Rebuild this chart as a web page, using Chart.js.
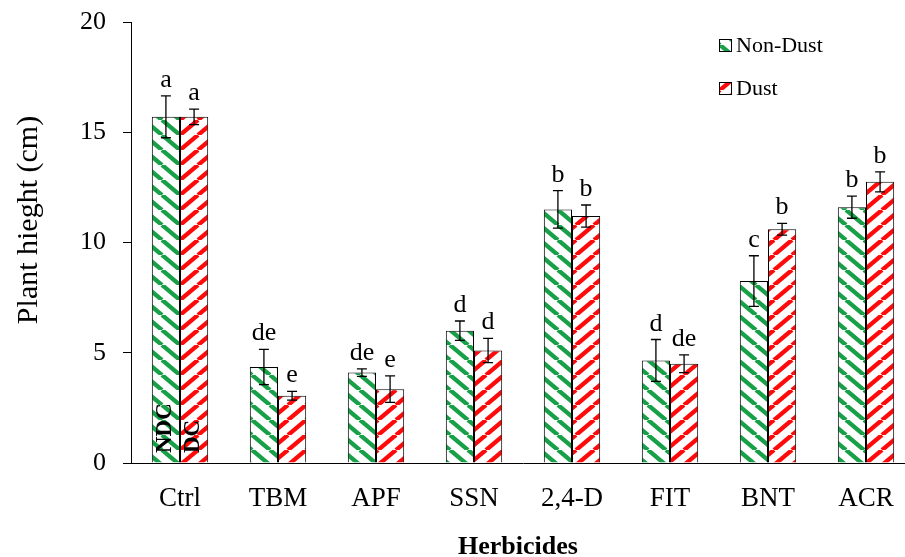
<!DOCTYPE html>
<html>
<head>
<meta charset="utf-8">
<script src="https://cdn.jsdelivr.net/npm/chart.js@4/dist/chart.umd.min.js"></script>
<style>
  html, body { margin: 0; padding: 0; background: #fff; overflow: hidden; }
  #wrap { width: 905px; height: 557px; overflow: hidden; }
  canvas { display: block; }
</style>
</head>
<body>
<div id="wrap"><canvas id="c" width="916" height="557"></canvas></div>
<script>
// Plant height under herbicide treatments, with and without dust
const categories = ['Ctrl', 'TBM', 'APF', 'SSN', '2,4-D', 'FIT', 'BNT', 'ACR'];
const nonDust    = [15.7, 4.35, 4.1, 6.0, 11.5, 4.65, 8.25, 11.6];
const dust       = [15.7, 3.05, 3.35, 5.1, 11.2, 4.5, 10.6, 12.75];
const nonDustErr = [0.95, 0.8, 0.17, 0.44, 0.85, 0.95, 1.15, 0.5];
const dustErr    = [0.35, 0.2, 0.6, 0.55, 0.5, 0.4, 0.27, 0.45];
const nonDustLetters = ['a', 'de', 'de', 'd', 'b', 'd', 'c', 'b'];
const dustLetters    = ['a', 'e', 'e', 'd', 'b', 'de', 'b', 'b'];
const seriesNames = ['Non-Dust', 'Dust'];
const barTags = ['NDC', 'DC'];
const yTicks = [0, 5, 10, 15, 20];

const SERIF = '"Liberation Serif", "Times New Roman", serif';
const GREEN = '#17a048';
const RED = '#ff0a0a';

// diagonal hatch fill; dir = 1 for "\" stripes, -1 for "/" stripes
function hatch(color, dir) {
  const w = 18, h = 15;
  const c = document.createElement('canvas');
  c.width = w; c.height = h;
  const g = c.getContext('2d');
  g.fillStyle = '#fff';
  g.fillRect(0, 0, w, h);
  g.strokeStyle = color;
  g.lineWidth = 4.4;
  for (let k = -1; k <= 1; k++) {
    const x0 = k * w;
    g.beginPath();
    if (dir > 0) { g.moveTo(x0, 0); g.lineTo(x0 + w, h); }
    else { g.moveTo(x0, h); g.lineTo(x0 + w, 0); }
    g.stroke();
  }
  return g.createPattern(c, 'repeat');
}

const ctxMain = document.getElementById('c').getContext('2d');
const greenFill = hatch(GREEN, 1);
const redFill = hatch(RED, -1);

const errors = [nonDustErr, dustErr];
const letters = [nonDustLetters, dustLetters];

const decorations = {
  id: 'decorations',
  afterDatasetsDraw(chart) {
    const ctx = chart.ctx;
    const y = chart.scales.y;
    ctx.save();
    // error bars and letter labels
    chart.data.datasets.forEach((ds, i) => {
      const meta = chart.getDatasetMeta(i);
      meta.data.forEach((bar, j) => {
        const v = ds.data[j], e = errors[i][j];
        const yt = y.getPixelForValue(v + e);
        const yb = y.getPixelForValue(v - e);
        const x = bar.x;
        ctx.strokeStyle = '#000';
        ctx.lineWidth = 1.3;
        ctx.beginPath();
        ctx.moveTo(x, yt); ctx.lineTo(x, yb);
        ctx.moveTo(x - 5, yt); ctx.lineTo(x + 5, yt);
        ctx.moveTo(x - 5, yb); ctx.lineTo(x + 5, yb);
        ctx.stroke();
        ctx.fillStyle = '#000';
        ctx.font = '26px ' + SERIF;
        ctx.textAlign = 'center';
        ctx.textBaseline = 'alphabetic';
        ctx.fillText(letters[i][j], x, yt - 9);
      });
    });
    // rotated tags inside the control bars
    ctx.font = 'bold 23px ' + SERIF;
    ctx.textAlign = 'left';
    ctx.textBaseline = 'middle';
    barTags.forEach((t, i) => {
      const bar = chart.getDatasetMeta(i).data[0];
      ctx.save();
      ctx.translate(bar.x - 1, y.getPixelForValue(0) - 10);
      ctx.rotate(-Math.PI / 2);
      ctx.fillText(t, 0, 0);
      ctx.restore();
    });
    // axis titles
    ctx.fillStyle = '#000';
    ctx.font = '30px ' + SERIF;
    ctx.textAlign = 'center';
    ctx.textBaseline = 'middle';
    ctx.save();
    ctx.translate(29, 220);
    ctx.rotate(-Math.PI / 2);
    ctx.fillText('Plant hieght (cm)', 0, 0);
    ctx.restore();
    ctx.font = 'bold 26px ' + SERIF;
    ctx.fillText('Herbicides', 518, 547);
    // legend
    const fills = [greenFill, redFill];
    const rows = [45, 88];
    ctx.font = '22px ' + SERIF;
    ctx.textAlign = 'left';
    seriesNames.forEach((name, i) => {
      const ly = rows[i];
      ctx.fillStyle = fills[i];
      ctx.fillRect(719, ly - 6, 12, 12);
      ctx.strokeStyle = '#000';
      ctx.lineWidth = 1;
      ctx.strokeRect(719.5, ly - 5.5, 12, 12);
      ctx.fillStyle = '#000';
      ctx.fillText(name, 736, ly + 1);
    });
    ctx.restore();
  }
};

new Chart(ctxMain, {
  type: 'bar',
  data: {
    labels: categories,
    datasets: [
      { label: seriesNames[0], data: nonDust, backgroundColor: greenFill,
        borderColor: '#000', borderWidth: 1 },
      { label: seriesNames[1], data: dust, backgroundColor: redFill,
        borderColor: '#000', borderWidth: 1 }
    ]
  },
  options: {
    responsive: false,
    animation: false,
    devicePixelRatio: 1,
    layout: { padding: { top: 22, right: 1, left: 0, bottom: 0 } },
    datasets: { bar: { categoryPercentage: 0.575, barPercentage: 1 } },
    plugins: { legend: { display: false }, tooltip: { enabled: false } },
    scales: {
      x: {
        grid: { display: false, drawTicks: false },
        border: { display: true, color: '#000', width: 1 },
        ticks: { color: '#000', font: { family: SERIF, size: 27 }, padding: 20, maxRotation: 0 },
        afterFit(s) { s.height = 94; s.paddingLeft = 0; s.paddingRight = 0; }
      },
      y: {
        min: 0, max: 20,
        afterBuildTicks(s) { s.ticks = yTicks.map(v => ({ value: v })); },
        grid: { display: true, drawOnChartArea: false, drawTicks: true, tickLength: 8, color: '#000' },
        border: { display: true, color: '#000', width: 1 },
        ticks: { color: '#000', font: { family: SERIF, size: 26 }, padding: 17 },
        afterFit(s) { s.width = 131; s.paddingTop = 0; s.paddingBottom = 0; }
      }
    }
  },
  plugins: [decorations]
});
</script>
</body>
</html>
